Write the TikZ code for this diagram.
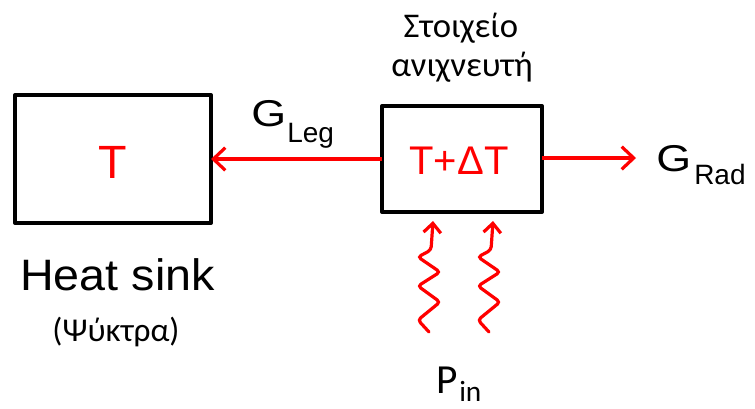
\documentclass[tikz,border=0pt]{standalone}
\usepackage{fontspec}
\setmainfont{Liberation Sans}
\newfontfamily\calib{Carlito}
\usetikzlibrary{arrows.meta}
\definecolor{myred}{RGB}{255,0,0}
\begin{document}
\begin{tikzpicture}[x=0.75pt,y=-0.75pt,
  blockbox/.style={draw=black,line width=3pt,line join=round,inner sep=0},
  flowarrow/.style={draw=myred,line width=2.4pt,-{Straight Barb[length=9pt,width=17pt,line width=2.4pt]}},
  wavearrow/.style={draw=myred,line width=2.4pt,rounded corners=2.5pt,line cap=round,-{Straight Barb[length=7pt,width=13pt,line width=2.4pt]}},
  redtxt/.style={text=myred,inner sep=0},
  blktxt/.style={text=black,inner sep=0}]
\useasboundingbox (0,0) rectangle (755,408);
% boxes
\draw[blockbox] (15,95) rectangle (211,223);
\draw[blockbox] (382,106) rectangle (542,212);
\node[redtxt] (tleft) at (113,162) {\fontsize{35pt}{40pt}\selectfont T};
\node[redtxt] (tright) at (459,161) {\fontsize{30pt}{34pt}\selectfont T+ΔT};
\coordinate (lbE) at (211,159);
\coordinate (rbW) at (382,159);
\coordinate (rbE) at (542,158);
\coordinate (radtip) at (636,158);
\draw[flowarrow] (rbW) -- (lbE);
\draw[flowarrow] (rbE) -- (radtip);
% labels
\node[blktxt,anchor=base west] (gleg) at (251,126) {\fontsize{28pt}{32pt}\selectfont\scalebox{1.2}[1]{G}};
\node[blktxt,anchor=base west] (legsub) at (287,142) {\fontsize{21pt}{24pt}\selectfont Leg};
\node[blktxt,anchor=base west] (grad) at (656,171) {\fontsize{28pt}{32pt}\selectfont\scalebox{1.2}[1]{G}};
\node[blktxt,anchor=base west] (radsub) at (694,184) {\fontsize{21pt}{24pt}\selectfont Rad};
\node[blktxt,anchor=base] (stoix) at (461,37) {\calib\fontsize{26pt}{30pt}\selectfont Στοιχείο};
\node[blktxt,anchor=base] (anix) at (462,76) {\calib\fontsize{26pt}{30pt}\selectfont ανιχνευτή};
\node[blktxt,anchor=base west] (heat) at (20,290) {\fontsize{33pt}{38pt}\selectfont\scalebox{1.06}[1]{Heat sink}};
\node[blktxt,anchor=base] (psy) at (116,341) {\calib\fontsize{25pt}{30pt}\selectfont (Ψύκτρα)};
\node[blktxt,anchor=base west] (pin) at (436,393) {\calib\fontsize{31pt}{34pt}\selectfont P};
\node[blktxt,anchor=base west] (pinsub) at (459,401) {\calib\fontsize{22pt}{26pt}\selectfont in};
% wavy arrows
\draw[wavearrow] (429,332) -- (418,320) -- (440,302) -- (418,286) -- (440,272) -- (418,257) -- (431,250) -- (433,221);
\draw[wavearrow] (489,332) -- (478,320) -- (500,302) -- (478,286) -- (500,272) -- (478,257) -- (491,250) -- (493,221);
\end{tikzpicture}
\end{document}
